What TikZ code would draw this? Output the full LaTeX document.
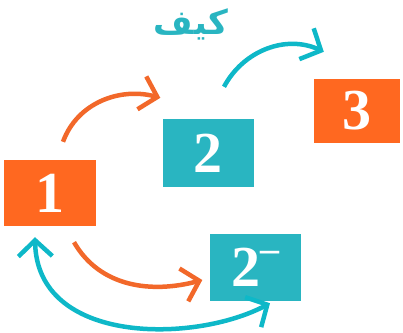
\documentclass[tikz,border=0pt]{standalone}
\usepackage{fontspec}
\setmainfont{Liberation Serif}
\newfontfamily\arabicfont[Script=Arabic]{DejaVu Sans}
\TeXXeTstate=1
\usepackage{tikz}
\usetikzlibrary{arrows.meta}

\definecolor{boxorange}{RGB}{255,104,32}
\definecolor{boxteal}{RGB}{41,181,193}
\definecolor{arrorange}{RGB}{242,104,42}
\definecolor{arrteal}{RGB}{14,184,200}

\tikzset{
  numbox/.style={minimum width=#1, inner sep=0pt, text=white,
    font=\fontsize{58}{58}\selectfont\bfseries},
  orangebox/.style={numbox=92pt, fill=boxorange},
  tealbox/.style={numbox=91pt, fill=boxteal},
  barb/.style={line width=4.5pt, -{Straight Barb[length=16pt,width=34pt]}},
  twobarb/.style={line width=4.5pt, {Straight Barb[length=16pt,width=34pt]}-{Straight Barb[length=16pt,width=34pt]}},
}

\begin{document}
\begin{tikzpicture}[x=1pt,y=1pt]
\useasboundingbox (0,0) rectangle (403,-332);
\node [orangebox, minimum height=66pt] (one) at (50,-193) {1};
\node [tealbox, minimum height=68pt] (two) at (208,-153) {2};
\node [orangebox, minimum width=86pt, minimum height=64pt] (three) at (357,-111) {3};
\node [tealbox, minimum height=67pt] (twom) at (255,-267.5) {2\raisebox{25pt}{\fontsize{38}{38}\selectfont--}};
\node [text=boxteal, font=\arabicfont\bfseries\fontsize{34}{34}\selectfont] (how) at (191,-24) {\beginR كيف\endR};
% arrows
\draw [barb, arrorange] ([shift={(13,18)}]one.north) to[out=70, in=165] ([shift={(-2,21)}]two.north west);
\draw [barb, arrteal] ([shift={(16,32)}]two.north) to[out=62, in=155] ([shift={(10,27)}]three.north west);
\draw [barb, arrorange] ([shift={(24,-16)}]one.south) to[out=-60, in=195] ([shift={(-7,-12.5)}]twom.west);
\draw [twobarb, arrteal] ([shift={(-15,-11)}]one.south) .. controls +(2,-108) and +(-75,-40) .. ([shift={(15,-2)}]twom.south);
\end{tikzpicture}
\end{document}
